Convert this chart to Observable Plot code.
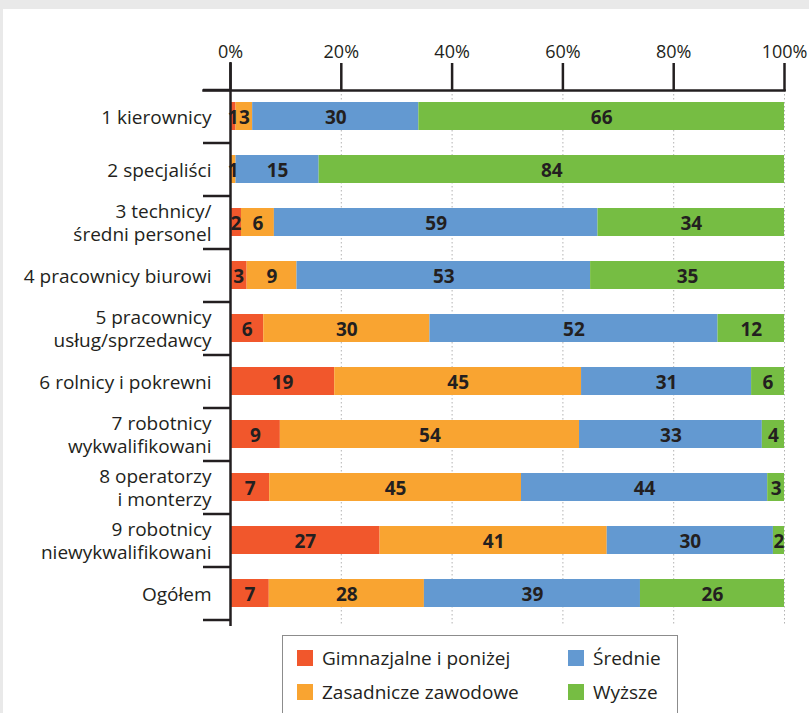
<!DOCTYPE html>
<html><head><meta charset="utf-8">
<script src="https://cdn.jsdelivr.net/npm/d3@7"></script>
<script src="https://cdn.jsdelivr.net/npm/@observablehq/plot@0.6"></script>
<style>
html,body{margin:0;padding:0;background:#e9e9e9;width:809px;height:713px;overflow:hidden;}
#paper{position:absolute;left:3px;top:9px;right:0;bottom:0;background:#fff;}
#chart{position:absolute;left:0;top:0;}
#chart svg{background:transparent;}
#legend{position:absolute;left:282px;top:635px;width:396px;height:100px;box-sizing:border-box;border:1px solid #8c8c8c;background:#fff;
  display:grid;grid-template-rows:34px 34px;grid-template-columns:271px 120px;grid-auto-flow:column;padding:10px 0 0 14px;
  font-family:"Open Sans",sans-serif;font-size:19px;color:#231f20;}
.item{display:flex;align-items:center;height:24px;}
.sw{width:16px;height:16px;margin-right:9px;flex:none;}
</style>
</head><body>
<div id="paper"></div>
<div id="chart"></div>
<div id="legend"></div>
<script>
const categories = ["1 kierownicy","2 specjaliści","3 technicy/\nśredni personel","4 pracownicy biurowi","5 pracownicy\nusług/sprzedawcy","6 rolnicy i pokrewni","7 robotnicy\nwykwalifikowani","8 operatorzy\ni monterzy","9 robotnicy\nniewykwalifikowani","Ogółem"];
const levels = ["Gimnazjalne i poniżej","Zasadnicze zawodowe","Średnie","Wyższe"];
const colors = ["#f1572c","#f9a431","#6399d1","#76bd43"];
const gimnazjalne = [1,0,2,3,6,19,9,7,27,7];
const zasadnicze  = [3,1,6,9,30,45,54,45,41,28];
const srednie     = [30,15,59,53,52,31,33,44,30,39];
const wyzsze      = [66,84,34,35,12,6,4,3,2,26];
const xTickLabels = [0,20,40,60,80,100];

const series = [gimnazjalne, zasadnicze, srednie, wyzsze];
const rows = [];
categories.forEach((cat, i) => levels.forEach((lev, j) => rows.push({cat, level: lev, value: series[j][i]})));

const W = 809, H = 632, mT = 90, mL = 230, mR = 25, mB = 12;
const plotW = W - mL - mR, step = (H - mT - mB) / categories.length;
const ink = "#231f20";

const chart = Plot.plot({
  width: W, height: H,
  marginTop: mT, marginLeft: mL, marginRight: mR, marginBottom: mB,
  style: {fontFamily: '"Open Sans", sans-serif', fontSize: "19px", color: ink, background: "transparent"},
  x: {domain: [0, 1], axis: null},
  y: {domain: categories, axis: null, paddingInner: 0.47, paddingOuter: 0.235},
  color: {domain: levels, range: colors},
  marks: [
    Plot.ruleX(xTickLabels.slice(1).map(t => t / 100), {stroke: "#b3b3b3", strokeDasharray: "1.5,2.5", strokeWidth: 1, insetBottom: -6}),
    Plot.barX(rows, Plot.stackX({x: "value", y: "cat", fill: "level", offset: "normalize"})),
    Plot.text(rows.filter(d => d.value > 0), Plot.stackX({x: "value", y: "cat", z: "level", offset: "normalize",
      text: "value", fontWeight: "bold", fontSize: 19, fill: ink, dy: 1})),
    Plot.text(categories, {y: d => d, text: d => d, frameAnchor: "left", textAnchor: "end", dx: -19, fontSize: 19, lineHeight: 1.2, fill: ink}),
    Plot.tickY(categories, {y: d => d, dy: -step / 2, insetLeft: -27, insetRight: plotW, stroke: ink, strokeWidth: 2.5}),
    Plot.tickY(categories.slice(-1), {y: d => d, dy: step / 2, insetLeft: -27, insetRight: plotW, stroke: ink, strokeWidth: 2.5}),
    Plot.frame({anchor: "top", insetLeft: -27, stroke: ink, strokeWidth: 2.5}),
    Plot.ruleX([0], {insetTop: -28, insetBottom: -6, stroke: ink, strokeWidth: 2.5}),
    Plot.axisX(xTickLabels.map(t => t / 100), {anchor: "top", tickSize: 28, tickPadding: 5, tickFormat: d => Math.round(d * 100) + "%",
      fontSize: 18, stroke: ink, strokeWidth: 2.5, fill: ink, label: null})
  ]
});
document.getElementById("chart").appendChild(chart);

const legend = document.getElementById("legend");
levels.forEach((lev, j) => {
  const it = document.createElement("div");
  it.className = "item";
  it.innerHTML = `<span class="sw" style="background:${colors[j]}"></span><span>${lev}</span>`;
  legend.appendChild(it);
});
</script>
</body></html>
